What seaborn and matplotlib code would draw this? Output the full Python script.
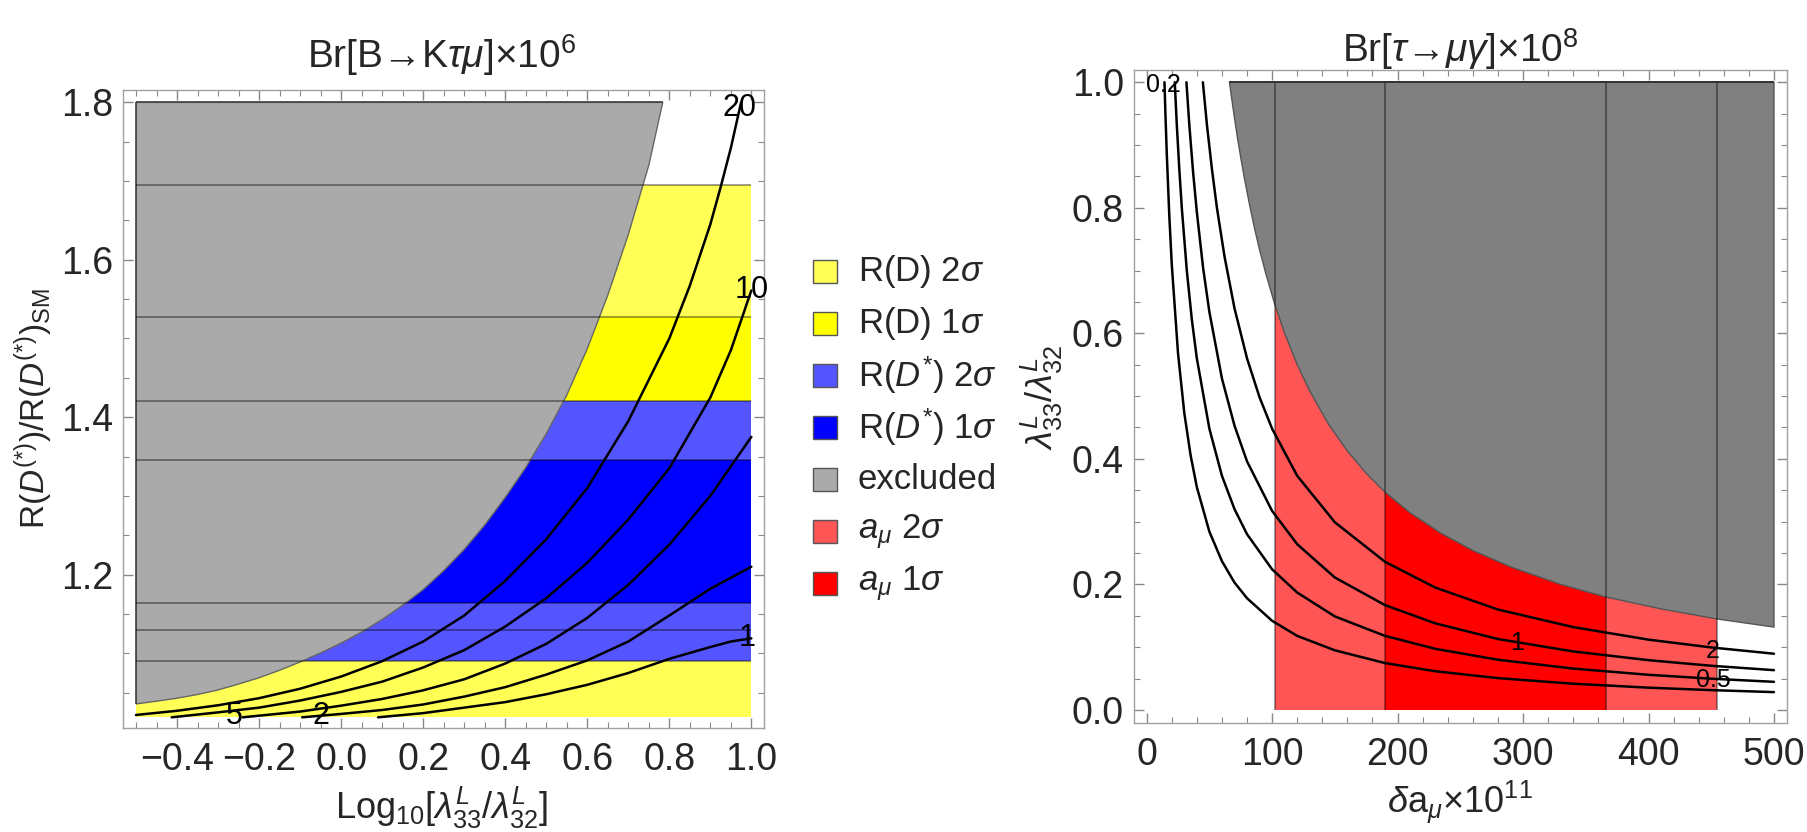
import numpy as np
import matplotlib
matplotlib.use("Agg")
import matplotlib.pyplot as plt
from matplotlib.patches import Rectangle
from matplotlib.ticker import MultipleLocator
import seaborn as sns

# ---------------- left panel data: Br[B->K tau mu] ----------------
log_range = (-0.5, 1.0)
y_bottom, y_top = 1.0187, 1.8
rd_2sig = (1.0187, 1.6949)
rd_1sig = (1.1301, 1.5271)
rds_2sig = (1.0907, 1.4212)
rds_1sig = (1.1644, 1.3458)

# boundary of the excluded region
excl_x = [-0.5, -0.45, -0.4, -0.35, -0.3, -0.25, -0.2, -0.15, -0.1, -0.05, 0.0, 0.05, 0.1,
          0.15, 0.2, 0.25, 0.3, 0.35, 0.4, 0.45, 0.5, 0.55, 0.6, 0.65, 0.7, 0.75, 0.784]
excl_y = [1.0357, 1.0392, 1.043, 1.0477, 1.0535, 1.061, 1.069, 1.0785, 1.089, 1.1005, 1.113,
          1.127, 1.143, 1.161, 1.181, 1.205, 1.232, 1.263, 1.298, 1.336, 1.379, 1.428,
          1.487, 1.555, 1.632, 1.720, 1.800]

# contour lines of Br x 10^6
c20_x = [-0.5, -0.4, -0.3, -0.2, -0.1, 0.0, 0.1, 0.2, 0.3, 0.4, 0.5, 0.6, 0.7, 0.8, 0.85,
         0.9, 0.925, 0.95, 0.975]
c20_y = [1.0217, 1.027, 1.034, 1.043, 1.055, 1.0705, 1.090, 1.115, 1.148, 1.192, 1.245,
         1.310, 1.395, 1.500, 1.567, 1.645, 1.692, 1.742, 1.800]
c10_x = [-0.413, -0.3, -0.2, -0.1, 0.0, 0.1, 0.2, 0.3, 0.4, 0.5, 0.6, 0.7, 0.8, 0.9, 0.95, 1.0]
c10_y = [1.0187, 1.025, 1.031, 1.040, 1.051, 1.064, 1.082, 1.104, 1.134, 1.170, 1.215,
         1.270, 1.335, 1.425, 1.485, 1.561]
c5_x = [-0.24, -0.1, 0.0, 0.1, 0.2, 0.3, 0.4, 0.5, 0.6, 0.7, 0.8, 0.9, 1.0]
c5_y = [1.0187, 1.026, 1.0335, 1.042, 1.053, 1.067, 1.087, 1.112, 1.145, 1.187, 1.238,
        1.300, 1.375]
c2_x = [-0.095, 0.0, 0.1, 0.2, 0.3, 0.4, 0.5, 0.6, 0.7, 0.8, 0.9, 1.0]
c2_y = [1.0187, 1.023, 1.028, 1.035, 1.045, 1.057, 1.073, 1.091, 1.115, 1.148, 1.182, 1.210]
c1_x = [0.09, 0.2, 0.3, 0.4, 0.5, 0.6, 0.7, 0.8, 0.9, 0.95, 1.0]
c1_y = [1.0187, 1.024, 1.031, 1.038, 1.048, 1.060, 1.075, 1.093, 1.108, 1.115, 1.119]
left_curves = [(c20_x, c20_y), (c10_x, c10_y), (c5_x, c5_y), (c2_x, c2_y), (c1_x, c1_y)]
left_labels = ["20", "10", "5", "2", "1"]
left_label_pos = [(0.972, 1.793), (1.0, 1.561), (-0.26, 1.020), (-0.05, 1.020), (0.99, 1.119)]

# ---------------- right panel data: Br[tau -> mu gamma] ----------------
amu_range = (0, 500)
amu_2sig = (102, 454.5)
amu_1sig = (190, 366)
excl2_x = [66, 68, 70, 72.5, 75, 78, 82, 86, 90, 95, 102, 110, 120, 130, 145, 160, 175, 190,
           210, 235, 260, 290, 330, 366, 410, 454.5, 500]
excl2_y = [1.0, 0.971, 0.943, 0.910, 0.880, 0.846, 0.805, 0.767, 0.733, 0.695, 0.647, 0.600,
           0.550, 0.508, 0.455, 0.4125, 0.377, 0.347, 0.314, 0.281, 0.254, 0.228, 0.200,
           0.180, 0.161, 0.145, 0.132]

t02_x = [14.2, 15, 16, 18, 20, 25, 30, 35, 40, 50, 60, 70, 80, 100, 120, 150, 190, 230, 280, 340, 400, 450, 500]
t02_y = [1.0, 0.947, 0.888, 0.789, 0.710, 0.568, 0.473, 0.406, 0.355, 0.284, 0.237, 0.203,
         0.178, 0.142, 0.118, 0.095, 0.0747, 0.0617, 0.0507, 0.0418, 0.0355, 0.0316, 0.0284]
t05_x = [22.4, 24, 26, 28, 32, 36, 40, 50, 60, 70, 80, 100, 120, 150, 190, 230, 280, 340, 400, 450, 500]
t05_y = [1.0, 0.933, 0.862, 0.800, 0.700, 0.622, 0.560, 0.448, 0.373, 0.320, 0.280, 0.224,
         0.187, 0.149, 0.118, 0.0974, 0.080, 0.0659, 0.056, 0.0498, 0.0448]
t1_x = [31.7, 34, 37, 40, 45, 50, 60, 70, 80, 100, 120, 150, 190, 230, 280, 340, 400, 450, 500]
t1_y = [1.0, 0.932, 0.857, 0.793, 0.704, 0.634, 0.528, 0.453, 0.396, 0.317, 0.264, 0.211,
        0.167, 0.138, 0.113, 0.0932, 0.0793, 0.0704, 0.0634]
t2_x = [44.8, 48, 52, 56, 62, 70, 80, 90, 100, 120, 150, 190, 230, 280, 340, 400, 450, 500]
t2_y = [1.0, 0.933, 0.862, 0.800, 0.723, 0.640, 0.560, 0.498, 0.448, 0.373, 0.299, 0.236,
        0.195, 0.160, 0.132, 0.112, 0.0996, 0.0896]
right_curves = [(t02_x, t02_y), (t05_x, t05_y), (t1_x, t1_y), (t2_x, t2_y)]
right_labels = ["0.2", "0.5", "1", "2"]
right_label_pos = [(13.5, 0.996), (452, 0.048), (295, 0.107), (451, 0.094)]

legend_labels = ["R(D) 2$\\sigma$", "R(D) 1$\\sigma$", "R($D^{*}$) 2$\\sigma$",
                 "R($D^{*}$) 1$\\sigma$", "excluded", "$a_\\mu$ 2$\\sigma$", "$a_\\mu$ 1$\\sigma$"]
legend_colors = ["#ffff55", "#ffff00", "#5555ff", "#0000ff", "#aaaaaa", "#ff5555", "#ff0000"]

sns.set_style("ticks")
plt.rcParams.update({
    "font.family": ["Liberation Sans", "DejaVu Sans"],
    "mathtext.fontset": "custom",
    "mathtext.rm": "Liberation Sans",
    "mathtext.it": "Liberation Sans:italic",
    "mathtext.bf": "Liberation Sans:bold",
    "axes.edgecolor": "#a0a0a0",
    "axes.linewidth": 1.0,
})

fig = plt.figure(figsize=(18.08, 8.32), dpi=100)
ax = fig.add_axes([0.0682, 0.1246, 0.3544, 0.7672])
ax2 = fig.add_axes([0.6270, 0.1307, 0.3614, 0.7852])

edge = dict(color="black", alpha=0.45, lw=1.2)

# ---- left panel ----
x0, x1 = log_range
for (lo, hi), col in zip([rd_2sig, rd_1sig, rds_2sig, rds_1sig], legend_colors[:4]):
    ax.fill_between([x0, x1], lo, hi, color=col, lw=0)
ax.fill(excl_x + [x0], excl_y + [y_top], facecolor="#aaaaaa", edgecolor="#666666", lw=1.0)
for v in [rd_2sig[1], rd_1sig[0], rd_1sig[1], rds_2sig[0], rds_2sig[1], rds_1sig[0], rds_1sig[1]]:
    ax.hlines(v, x0, x1, **edge)
ax.vlines(x0, excl_y[0], y_top, **edge)
ax.hlines(y_top, x0, excl_x[-1], color="#444444", lw=1.2)

for (cx, cy) in left_curves:
    sns.lineplot(x=np.array(cx), y=np.array(cy), ax=ax, color="black", lw=1.8,
                 sort=False, estimator=None)
for lab, (lx, ly) in zip(left_labels, left_label_pos):
    ax.text(lx, ly, lab, fontsize=22, ha="center", va="center", color="black")

ax.set_xlim(-0.531, 1.031)
ax.set_ylim(1.0047, 1.8157)
ax.xaxis.set_major_locator(MultipleLocator(0.2))
ax.xaxis.set_minor_locator(MultipleLocator(0.05))
ax.yaxis.set_major_locator(MultipleLocator(0.2))
ax.yaxis.set_minor_locator(MultipleLocator(0.05))

# ---- right panel ----
a0, a1 = amu_range
ax2.fill_between(amu_2sig, 0, 1, color=legend_colors[5], lw=0)
ax2.fill_between(amu_1sig, 0, 1, color=legend_colors[6], lw=0)
ax2.fill(excl2_x + [a1], excl2_y + [1.0], facecolor="#808080", edgecolor="#555555", lw=1.0)
for v in [amu_2sig[0], amu_1sig[0], amu_1sig[1], amu_2sig[1]]:
    ax2.vlines(v, 0, 1.0, **edge)
ax2.hlines(1.0, excl2_x[0], a1, color="#333333", lw=1.4)

for (cx, cy) in right_curves:
    sns.lineplot(x=np.array(cx), y=np.array(cy), ax=ax2, color="black", lw=1.8,
                 sort=False, estimator=None)
for lab, (lx, ly) in zip(right_labels, right_label_pos):
    ax2.text(lx, ly, lab, fontsize=18, ha="center", va="center", color="black")

ax2.set_xlim(-10.4, 510.4)
ax2.set_ylim(-0.0212, 1.0196)
ax2.xaxis.set_major_locator(MultipleLocator(100))
ax2.xaxis.set_minor_locator(MultipleLocator(20))
ax2.yaxis.set_major_locator(MultipleLocator(0.2))
ax2.yaxis.set_minor_locator(MultipleLocator(0.05))

for a in (ax, ax2):
    a.tick_params(which="both", direction="in", top=True, right=True, color="#888888")
    a.tick_params(which="major", length=7, width=1.0, labelsize=27)
    a.tick_params(which="minor", length=4, width=0.8)
    a.tick_params(axis="x", pad=10)
    a.tick_params(axis="y", pad=7)
    a.set_xlabel("")
    a.set_ylabel("")

# titles and axis labels
fig.text(442 / 1808, 1 - 68 / 832, "Br[B→K$\\tau\\mu$]×10$^6$", fontsize=28,
         ha="center", va="baseline")
fig.text(1460 / 1808, 1 - 62 / 832, "Br[$\\tau$→$\\mu\\gamma$]×10$^8$", fontsize=28,
         ha="center", va="baseline")
fig.text(442 / 1808, 1 - 819 / 832, "Log$_{10}$[$\\lambda^L_{33}/\\lambda^L_{32}$]",
         fontsize=26, ha="center", va="baseline")
fig.text(1460 / 1808, 1 - 813 / 832, "$\\delta$a$_\\mu$×10$^{11}$",
         fontsize=26, ha="center", va="baseline")
fig.text(34 / 1808, 1 - 409 / 832, "R($D^{(*)}$)/R($D^{(*)}$)$_{\\mathrm{SM}}$",
         fontsize=24, rotation=90, ha="center", va="center")
fig.text(1042 / 1808, 1 - 397 / 832, "$\\lambda^L_{33}/\\lambda^L_{32}$",
         fontsize=26, rotation=90, ha="center", va="center")

# legend drawn by hand between the panels
for i, (lab, col) in enumerate(zip(legend_labels, legend_colors)):
    yc = 271.7 + i * 52.0
    fig.patches.append(Rectangle((812.7 / 1808, 1 - (yc + 11.5) / 832), 24 / 1808, 23 / 832,
                                 transform=fig.transFigure, facecolor=col,
                                 edgecolor="#555555", lw=1.0))
    fig.text(858 / 1808, 1 - yc / 832, lab, fontsize=25, ha="left", va="center")

fig.savefig("out.png", dpi=100)
